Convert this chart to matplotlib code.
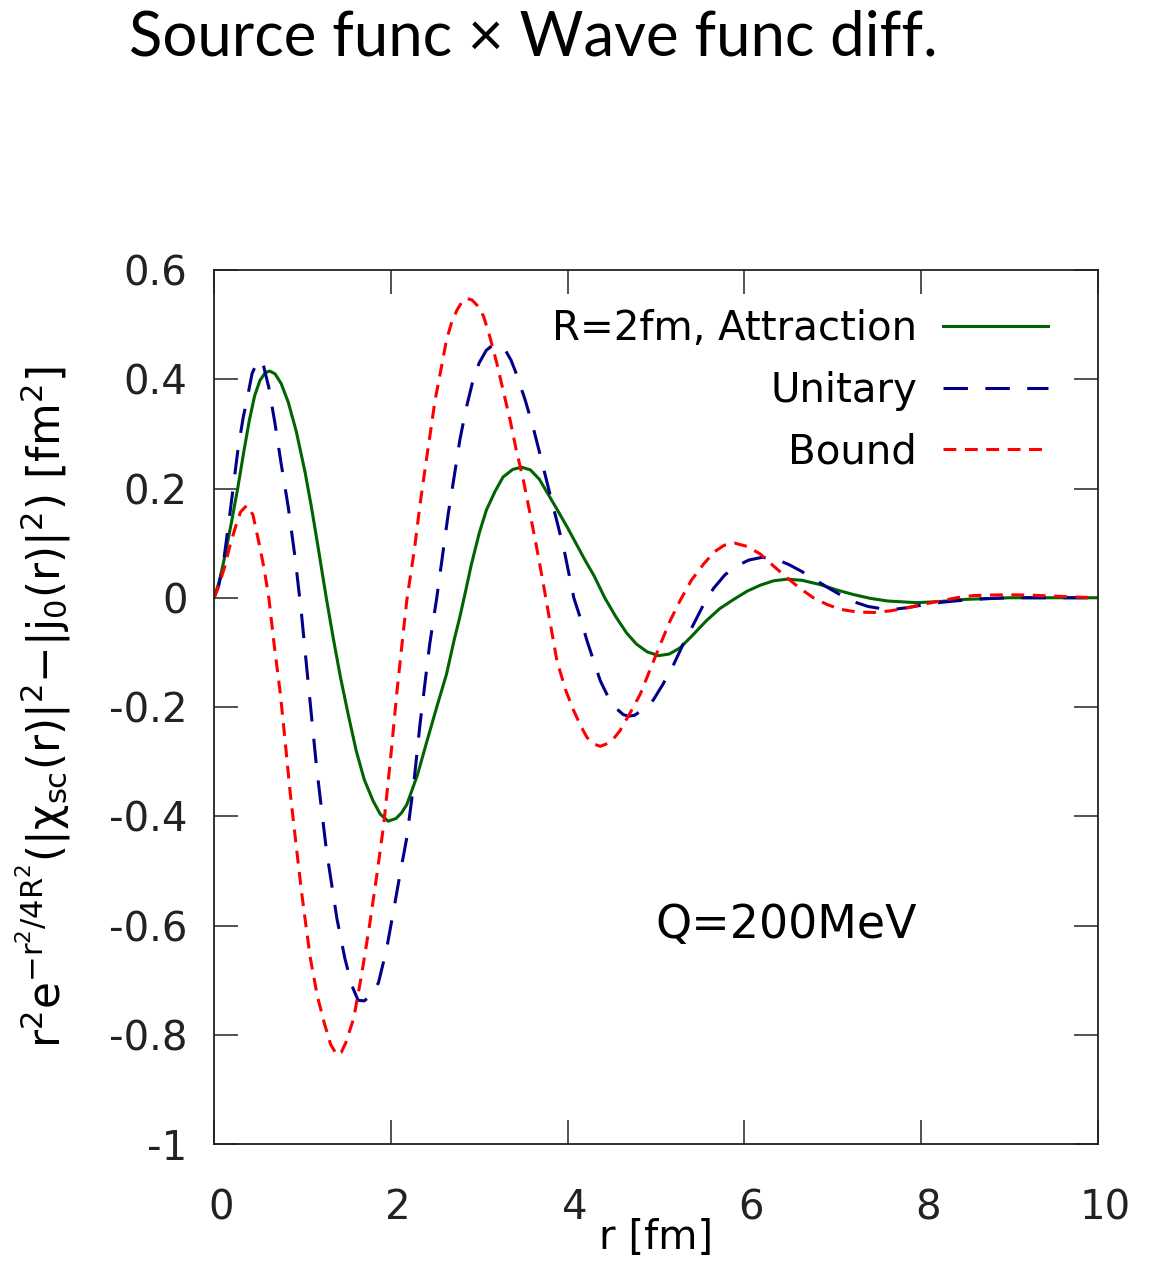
import matplotlib
matplotlib.use("Agg")
import matplotlib.pyplot as plt
import matplotlib.transforms as mtransforms


# Attraction (R=2fm)
r_attr = [0, 0.06, 0.12, 0.20, 0.27, 0.34, 0.40, 0.46, 0.52, 0.58, 0.63, 0.69, 0.76,
          0.84, 0.93, 1.03, 1.10, 1.17, 1.27, 1.35, 1.43, 1.52, 1.61, 1.70, 1.80, 1.88,
          1.97, 2.06, 2.12, 2.18, 2.30, 2.41, 2.52, 2.63, 2.72, 2.78, 2.85, 2.91, 3.00,
          3.08, 3.18, 3.27, 3.38, 3.48, 3.58, 3.68, 3.76, 3.88, 4.00, 4.10, 4.20, 4.30,
          4.42, 4.55, 4.67, 4.78, 4.90, 5.03, 5.15, 5.27, 5.40, 5.57, 5.72, 5.87, 6.03,
          6.18, 6.33, 6.48, 6.65, 6.86, 7.05, 7.23, 7.42, 7.62, 7.95, 8.20, 8.50, 9.0, 10]
y_attr = [0, 0.03, 0.074, 0.14, 0.202, 0.27, 0.325, 0.37, 0.398, 0.412, 0.415, 0.41,
          0.392, 0.358, 0.305, 0.23, 0.168, 0.10, 0.0, -0.075, -0.145, -0.215, -0.281,
          -0.333, -0.372, -0.396, -0.409, -0.404, -0.394, -0.379, -0.325, -0.262, -0.20,
          -0.14, -0.075, -0.036, 0.015, 0.06, 0.118, 0.16, 0.195, 0.221, 0.235, 0.239,
          0.234, 0.217, 0.195, 0.162, 0.128, 0.098, 0.068, 0.04, 0.0, -0.036, -0.065,
          -0.085, -0.099, -0.106, -0.103, -0.092, -0.071, -0.042, -0.02, -0.004, 0.012,
          0.023, 0.031, 0.034, 0.032, 0.024, 0.014, 0.006, -0.001, -0.006, -0.009,
          -0.007, -0.003, 0.0, 0.0]

# Unitary
r_unit = [0, 0.05, 0.10, 0.18, 0.27, 0.33, 0.37, 0.43, 0.50, 0.56, 0.62, 0.69, 0.76,
          0.84, 0.92, 0.99, 1.05, 1.16, 1.27, 1.39, 1.48, 1.56, 1.63, 1.70, 1.78, 1.86,
          1.95, 2.03, 2.10, 2.18, 2.26, 2.33, 2.44, 2.52, 2.65, 2.72, 2.78, 2.85, 2.93,
          3.00, 3.08, 3.15, 3.22, 3.30, 3.36, 3.42, 3.52, 3.61, 3.70, 3.80, 3.89, 3.97,
          4.07, 4.15, 4.22, 4.30, 4.37, 4.46, 4.56, 4.63, 4.69, 4.76, 4.83, 4.90, 4.97,
          5.08, 5.20, 5.31, 5.42, 5.53, 5.65, 5.78, 5.91, 6.05, 6.20, 6.35, 6.50, 6.65,
          6.80, 6.95, 7.10, 7.25, 7.40, 7.55, 7.70, 7.85, 8.06, 8.25, 8.44, 8.70, 9.0, 10]
y_unit = [0, 0.02, 0.056, 0.154, 0.27, 0.33, 0.36, 0.41, 0.436, 0.425, 0.385, 0.319,
          0.245, 0.166, 0.07, -0.03, -0.13, -0.31, -0.46, -0.587, -0.66, -0.71, -0.737,
          -0.738, -0.727, -0.705, -0.645, -0.574, -0.51, -0.44, -0.34, -0.232, -0.085,
          0.0, 0.154, 0.225, 0.288, 0.345, 0.398, 0.43, 0.453, 0.462, 0.463, 0.452,
          0.435, 0.41, 0.362, 0.312, 0.255, 0.19, 0.133, 0.08, 0.0, -0.04, -0.079,
          -0.118, -0.152, -0.182, -0.204, -0.214, -0.217, -0.215, -0.207, -0.199,
          -0.187, -0.158, -0.122, -0.084, -0.05, -0.015, 0.017, 0.042, 0.058, 0.069,
          0.074, 0.071, 0.061, 0.048, 0.033, 0.018, 0.004, -0.008, -0.016, -0.02,
          -0.021, -0.018, -0.012, -0.008, -0.005, -0.002, 0.0, 0.0]

# Bound
r_bound = [0, 0.06, 0.12, 0.18, 0.24, 0.30, 0.37, 0.44, 0.52, 0.57, 0.62, 0.68, 0.75,
           0.80, 0.86, 0.92, 0.99, 1.04, 1.09, 1.17, 1.25, 1.32, 1.39, 1.44, 1.49, 1.54,
           1.58, 1.67, 1.76, 1.84, 1.92, 2.00, 2.07, 2.13, 2.18, 2.27, 2.33, 2.39, 2.45,
           2.50, 2.57, 2.63, 2.69, 2.75, 2.81, 2.86, 2.92, 2.99, 3.05, 3.12, 3.20, 3.27,
           3.35, 3.42, 3.50, 3.58, 3.65, 3.72, 3.78, 3.88, 3.98, 4.07, 4.15, 4.22, 4.30,
           4.37, 4.45, 4.52, 4.59, 4.70, 4.82, 4.93, 5.05, 5.16, 5.27, 5.40, 5.54, 5.66,
           5.77, 5.89, 6.03, 6.18, 6.33, 6.48, 6.63, 6.78, 6.93, 7.08, 7.27, 7.46, 7.65,
           7.83, 8.02, 8.21, 8.40, 8.59, 8.80, 8.97, 9.20, 9.50, 9.80, 10]
y_bound = [0, 0.025, 0.056, 0.095, 0.128, 0.157, 0.169, 0.152, 0.092, 0.05, 0.0,
           -0.085, -0.175, -0.255, -0.354, -0.44, -0.538, -0.60, -0.66, -0.73, -0.78,
           -0.818, -0.837, -0.832, -0.815, -0.79, -0.77, -0.69, -0.599, -0.51, -0.415,
           -0.29, -0.171, -0.08, -0.006, 0.092, 0.17, 0.239, 0.305, 0.361, 0.42, 0.472,
           0.505, 0.527, 0.543, 0.548, 0.545, 0.533, 0.515, 0.478, 0.429, 0.38, 0.325,
           0.27, 0.215, 0.15, 0.092, 0.03, -0.025, -0.116, -0.17, -0.207, -0.235,
           -0.256, -0.268, -0.272, -0.267, -0.258, -0.244, -0.213, -0.177, -0.133,
           -0.085, -0.042, -0.006, 0.032, 0.062, 0.084, 0.096, 0.10, 0.094, 0.08, 0.058,
           0.037, 0.017, 0.0, -0.012, -0.021, -0.026, -0.027, -0.024, -0.019, -0.012,
           -0.006, 0.0, 0.004, 0.005, 0.0055, 0.005, 0.003, 0.001, 0.0]

labels = ["R=2fm, Attraction", "Unitary", "Bound"]
x_ticks = [0, 2, 4, 6, 8, 10]
y_ticks = [0.6, 0.4, 0.2, 0, -0.2, -0.4, -0.6, -0.8, -1]
y_tick_labels = ["0.6", "0.4", "0.2", "0", "-0.2", "-0.4", "-0.6", "-0.8", "-1"]

plt.rcParams["font.family"] = "DejaVu Sans"
plt.rcParams["axes.unicode_minus"] = False
plt.rcParams["mathtext.fontset"] = "dejavusans"

fig = plt.figure(figsize=(11.49, 12.70), dpi=100)
ax = fig.add_axes([214 / 1149, 126 / 1270, 884 / 1149, 874 / 1270])

lw = 2.2
ax.plot(r_attr, y_attr, color="#006400", lw=lw, label=labels[0])
ax.plot(r_unit, y_unit, color="#00008b", lw=lw, ls=(0, (8, 5.7)), label=labels[1])
ax.plot(r_bound, y_bound, color="#ff0000", lw=lw, ls=(0, (4.2, 2.8)), label=labels[2])

ax.set_xlim(0, 10)
ax.set_ylim(-1, 0.6)
ax.set_xticks(x_ticks)
ax.set_xticklabels([str(t) for t in x_ticks])
ax.set_yticks(y_ticks)
ax.set_yticklabels(y_tick_labels)
ax.tick_params(direction="in", length=17, width=1.1, top=True, right=True,
               labelsize=29, colors="#222222")
ax.tick_params(axis="x", pad=32)
ax.tick_params(axis="y", pad=19)
for s in ax.spines.values():
    s.set_linewidth(1.3)
    s.set_color("#222222")

# gnuplot puts the x tick labels a little to the right of the ticks
shift = mtransforms.ScaledTranslation(0.07, 0, fig.dpi_scale_trans)
for lab in ax.get_xticklabels():
    lab.set_transform(lab.get_transform() + shift)

ax.set_xlabel("r [fm]", fontsize=29)
ax.xaxis.set_label_coords(0.5, -0.085)
ax.xaxis.label.set_va("top")

ax.set_ylabel(r"$\mathregular{r^2e^{-r^2/4R^2}(|χ_{sc}(r)|^2{-}|j_0(r)|^2)\ [fm^2]}$",
              fontsize=31.5)
ax.yaxis.set_label_coords(-0.16, 0.5)

leg = ax.legend(loc="upper right", bbox_to_anchor=(0.9434, 0.955), frameon=False,
                markerfirst=False, fontsize=29, handlelength=2.6, handletextpad=0.65,
                labelspacing=0.53, borderpad=0, borderaxespad=0)

ax.text(7.95, -0.6, "Q=200MeV", fontsize=33, ha="right", va="center")

fig.text(533 / 1149, 1 - 10 / 1270, "Source func × Wave func diff.", fontsize=44.5,
         family="Lato", ha="center", va="top")

fig.savefig("out.png", dpi=100)
